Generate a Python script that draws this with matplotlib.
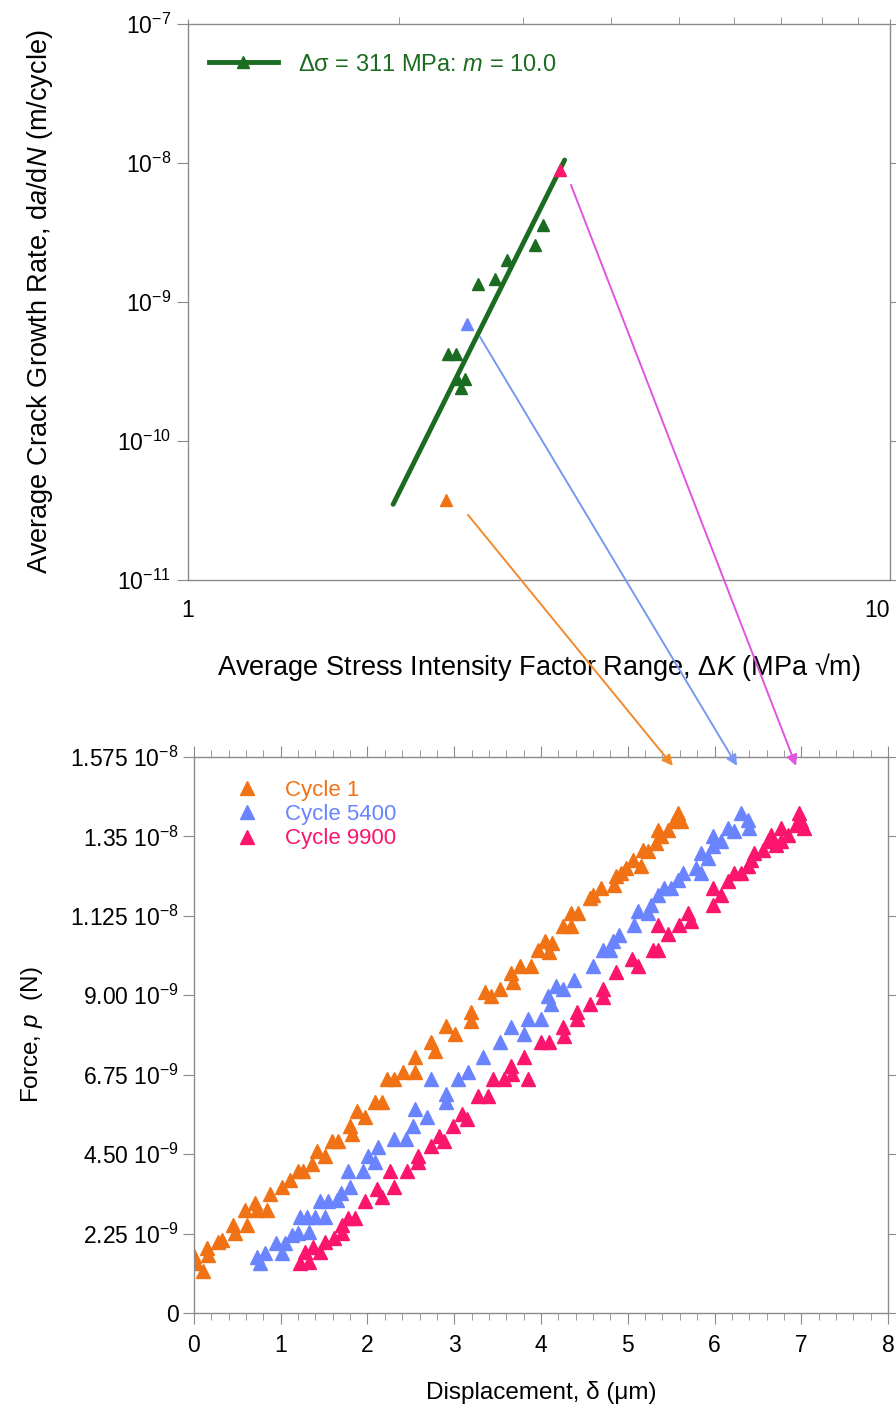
import numpy as np
import matplotlib
matplotlib.use("Agg")
import matplotlib.pyplot as plt
from matplotlib.lines import Line2D
from matplotlib.patches import ConnectionPatch
from matplotlib.ticker import FixedLocator, MultipleLocator, NullFormatter, NullLocator

plt.rcParams['font.family'] = ['Liberation Sans', 'DejaVu Sans']
plt.rcParams['mathtext.fontset'] = 'custom'
plt.rcParams['mathtext.rm'] = 'Liberation Sans'
plt.rcParams['mathtext.it'] = 'Liberation Sans:italic'
plt.rcParams['mathtext.default'] = 'regular'

# ---- top panel data: crack growth rate vs dK ----
dk_311 = [2.346, 2.405, 2.413, 2.477, 2.446, 2.589, 2.735, 2.845, 3.122, 3.205]
rate_311 = [4.22e-10, 4.22e-10, 2.79e-10, 2.79e-10, 2.41e-10, 1.35e-9, 1.46e-9, 2.00e-9, 2.57e-9, 3.58e-9]
fit_dk = [1.96, 3.44]
fit_rate = [3.5e-11, 1.05e-8]

# highlighted cycles (dK, rate)
dk_cycles = [2.331, 2.497, 3.388]
rate_cycles = [3.77e-11, 6.95e-10, 8.9e-9]

# ---- bottom panel data: force vs displacement (force in 1e-9 N) ----
disp_c1 = [0.00, 0.02, 0.10, 0.15, 0.16, 0.28, 0.32, 0.45, 0.47, 0.59,
           0.61, 0.70, 0.73, 0.84, 0.88, 1.02, 1.11, 1.20, 1.26, 1.36,
           1.42, 1.51, 1.59, 1.66, 1.80, 1.82, 1.88, 1.97, 2.09, 2.17,
           2.23, 2.30, 2.41, 2.55, 2.55, 2.73, 2.78, 2.90, 3.01, 3.19,
           3.19, 3.36, 3.42, 3.53, 3.65, 3.68, 3.76, 3.88, 3.96, 4.05,
           4.09, 4.13, 4.25, 4.34, 4.34, 4.43, 4.57, 4.60, 4.69, 4.84,
           4.86, 4.92, 4.98, 5.06, 5.15, 5.18, 5.23, 5.32, 5.38, 5.35,
           5.46, 5.53, 5.58, 5.61]
force_c1 = [1.62, 1.42, 1.19, 1.85, 1.65, 2.02, 2.08, 2.50, 2.28, 2.93,
            2.50, 3.13, 2.93, 2.93, 3.36, 3.56, 3.78, 4.01, 4.01, 4.21,
            4.58, 4.44, 4.86, 4.86, 5.29, 5.06, 5.72, 5.55, 5.97, 5.97,
            6.63, 6.63, 6.83, 6.83, 7.25, 7.68, 7.43, 8.14, 7.91, 8.54,
            8.28, 9.10, 8.99, 9.19, 9.62, 9.39, 9.84, 9.84, 10.27, 10.53,
            10.24, 10.47, 10.95, 10.95, 11.32, 11.32, 11.75, 11.84, 12.03, 12.12,
            12.38, 12.46, 12.60, 12.83, 12.66, 13.12, 13.09, 13.31, 13.51, 13.68,
            13.68, 13.94, 14.17, 13.94]

disp_c5400 = [0.73, 0.76, 0.82, 0.94, 1.02, 1.05, 1.13, 1.20, 1.22, 1.30,
              1.32, 1.40, 1.45, 1.51, 1.55, 1.65, 1.69, 1.78, 1.80, 1.95,
              2.01, 2.09, 2.12, 2.30, 2.44, 2.53, 2.55, 2.69, 2.73, 2.90,
              2.90, 3.04, 3.16, 3.33, 3.53, 3.65, 3.80, 3.85, 4.00, 4.08,
              4.11, 4.17, 4.25, 4.38, 4.60, 4.72, 4.80, 4.83, 4.90, 5.07,
              5.12, 5.23, 5.27, 5.35, 5.42, 5.50, 5.58, 5.64, 5.79, 5.84,
              5.84, 5.92, 5.98, 5.98, 6.07, 6.15, 6.22, 6.30, 6.39, 6.40]
force_c5400 = [1.59, 1.42, 1.71, 1.99, 1.71, 1.99, 2.22, 2.28, 2.73, 2.73,
               2.30, 2.73, 3.16, 2.73, 3.16, 3.21, 3.41, 4.01, 3.58, 4.01,
               4.44, 4.27, 4.69, 4.92, 4.92, 5.29, 5.78, 5.55, 6.63, 6.20,
               5.97, 6.63, 6.83, 7.25, 7.68, 8.11, 7.91, 8.34, 8.34, 8.99,
               8.76, 9.25, 9.19, 9.42, 9.84, 10.27, 10.27, 10.53, 10.70, 10.98,
               11.38, 11.32, 11.55, 11.84, 12.03, 12.03, 12.26, 12.46, 12.60, 12.46,
               13.03, 12.89, 13.23, 13.51, 13.37, 13.74, 13.66, 14.17, 13.97, 13.74]

disp_c9900 = [1.22, 1.28, 1.32, 1.37, 1.45, 1.51, 1.61, 1.71, 1.71, 1.78,
              1.86, 1.97, 2.11, 2.17, 2.30, 2.26, 2.46, 2.58, 2.58, 2.73,
              2.82, 2.88, 2.99, 3.09, 3.15, 3.27, 3.39, 3.45, 3.57, 3.65,
              3.67, 3.80, 3.85, 4.00, 4.09, 4.25, 4.26, 4.42, 4.42, 4.57,
              4.72, 4.72, 4.86, 5.05, 5.12, 5.29, 5.35, 5.35, 5.46, 5.59,
              5.70, 5.73, 5.98, 5.98, 6.07, 6.15, 6.22, 6.30, 6.39, 6.42,
              6.46, 6.56, 6.62, 6.65, 6.71, 6.77, 6.85, 6.77, 6.94, 7.00,
              6.97, 7.03]
force_c9900 = [1.42, 1.74, 1.45, 1.88, 1.74, 2.02, 2.13, 2.28, 2.50, 2.70,
               2.70, 3.16, 3.50, 3.30, 3.58, 4.01, 4.01, 4.44, 4.27, 4.72,
               5.01, 4.86, 5.29, 5.63, 5.49, 6.15, 6.15, 6.63, 6.63, 7.00,
               6.77, 7.25, 6.63, 7.68, 7.68, 8.11, 7.85, 8.54, 8.34, 8.76,
               9.19, 8.96, 9.67, 10.04, 9.84, 10.27, 10.27, 10.98, 10.75, 10.98,
               11.32, 11.10, 11.55, 12.03, 11.84, 12.23, 12.46, 12.46, 12.66, 12.83,
               13.03, 13.12, 13.37, 13.54, 13.26, 13.37, 13.54, 13.74, 13.83, 13.94,
               14.17, 13.74]

force_ticks = [0, 2.25, 4.50, 6.75, 9.00, 11.25, 13.50, 15.75]
force_labels = ['0', '2.25 10$^{-9}$', '4.50 10$^{-9}$', '6.75 10$^{-9}$', '9.00 10$^{-9}$',
                '1.125 10$^{-8}$', '1.35 10$^{-8}$', '1.575 10$^{-8}$']
rate_ticks = [1e-11, 1e-10, 1e-9, 1e-8, 1e-7]
rate_labels = ['10$^{-11}$', '10$^{-10}$', '10$^{-9}$', '10$^{-8}$', '10$^{-7}$']

# arrow ends: start in top panel (dK, rate), end in bottom panel (disp, force 1e-9)
arrow_start = [(2.505, 2.94e-11), (2.606, 5.6e-10), (3.512, 6.95e-9)]
arrow_end = [(5.52, 15.5), (6.26, 15.5), (6.94, 15.5)]

green = '#1b6b20'
c_orange = '#f07214'
c_blue = '#6a84ff'
c_pink = '#fb156c'
arrow_colors = ['#f08a2a', '#7a98f0', '#e055e0']
spine_col = '#8a8a8a'

fig = plt.figure(figsize=(8.96, 14.10), dpi=100)
ax1 = fig.add_axes([0.2098, 0.5887, 0.7835, 0.3943])
ax2 = fig.add_axes([0.2165, 0.0688, 0.7746, 0.3943])

# ---------------- top panel ----------------
ax1.set_xscale('log')
ax1.set_yscale('log')
ax1.plot(fit_dk, fit_rate, color=green, lw=3.5, solid_capstyle='round')
ax1.plot(dk_311, rate_311, ls='none', marker='^', ms=9, color=green)
for dk, r, c in zip(dk_cycles, rate_cycles, [c_orange, c_blue, c_pink]):
    ax1.plot([dk], [r], ls='none', marker='^', ms=9, color=c)
ax1.set_xlim(1, 10)
ax1.set_ylim(1e-11, 1e-7)
ax1.xaxis.set_major_locator(FixedLocator([1, 10]))
ax1.set_xticklabels(['1', '10'])
ax1.xaxis.set_minor_locator(FixedLocator([2, 3, 4, 5, 6, 7, 8, 9]))
ax1.xaxis.set_minor_formatter(NullFormatter())
ax1.yaxis.set_major_locator(FixedLocator(rate_ticks))
ax1.set_yticklabels(rate_labels)
ax1.yaxis.set_minor_locator(NullLocator())
ax1.tick_params(axis='x', which='both', bottom=False, top=True, direction='out',
                color=spine_col, labelsize=16.5, pad=10)
ax1.tick_params(axis='x', which='minor', length=5)
ax1.tick_params(axis='y', which='both', left=True, right=True, direction='out',
                color=spine_col, labelsize=16.5, length=8, pad=4)
ax1.get_xticklabels()[-1].set_horizontalalignment('right')
ax1.set_xlabel('Average Stress Intensity Factor Range, Δ$\\mathit{K}$ (MPa √m)', fontsize=19.5)
ax1.xaxis.set_label_coords(0.5, -0.128)
ax1.set_ylabel('Average Crack Growth Rate, d$\\mathit{a}$/d$\\mathit{N}$ (m/cycle)', fontsize=19.5)
ax1.yaxis.set_label_coords(-0.19, 0.5)
handle = Line2D([], [], color=green, lw=3.5, marker='^', ms=9)
leg1 = ax1.legend([handle], ['Δσ = 311 MPa: $\\mathit{m}$ = 10.0'], loc='upper left',
                  bbox_to_anchor=(0.0, 0.985), frameon=False, fontsize=17,
                  handlelength=2.9, handletextpad=0.85, numpoints=1)
for t in leg1.get_texts():
    t.set_color(green)

# ---------------- bottom panel ----------------
ax2.plot(disp_c1, np.array(force_c1), ls='none', marker='^', ms=10, color=c_orange, label='Cycle 1')
ax2.plot(disp_c5400, np.array(force_c5400), ls='none', marker='^', ms=10, color=c_blue, label='Cycle 5400')
ax2.plot(disp_c9900, np.array(force_c9900), ls='none', marker='^', ms=10, color=c_pink, label='Cycle 9900')
ax2.set_xlim(0, 8)
ax2.set_ylim(0, 15.75)
ax2.xaxis.set_major_locator(MultipleLocator(1))
ax2.xaxis.set_minor_locator(MultipleLocator(0.2))
ax2.yaxis.set_major_locator(FixedLocator(force_ticks))
ax2.set_yticklabels(force_labels)
ax2.tick_params(axis='x', which='both', bottom=True, top=True, direction='out',
                color=spine_col, labelsize=16.5, pad=7)
ax2.tick_params(axis='x', which='major', length=8)
ax2.tick_params(axis='x', which='minor', length=5)
ax2.tick_params(axis='y', which='both', left=True, right=True, direction='out',
                color=spine_col, labelsize=16.5, length=8, pad=3)
ax2.set_xlabel('Displacement, δ (μm)', fontsize=17.5)
ax2.xaxis.set_label_coords(0.5, -0.123)
ax2.set_ylabel('Force, $\\mathit{p}$  (N)', fontsize=17.5)
ax2.yaxis.set_label_coords(-0.215, 0.5)
leg2 = ax2.legend(loc='upper left', bbox_to_anchor=(0.032, 0.995), frameon=False, fontsize=16,
                  handlelength=1.0, handletextpad=1.2, labelspacing=0.15, numpoints=1)
for t, c in zip(leg2.get_texts(), [c_orange, c_blue, c_pink]):
    t.set_color(c)

for ax in (ax1, ax2):
    for s in ax.spines.values():
        s.set_color(spine_col)
        s.set_linewidth(1.0)

# arrows linking top panel points to the curves below
for (xa, ya), (xb, yb), c in zip(arrow_start, arrow_end, arrow_colors):
    con = ConnectionPatch(xyA=(xa, ya), coordsA=ax1.transData,
                          xyB=(xb, yb), coordsB=ax2.transData,
                          arrowstyle='-|>', mutation_scale=16, color=c, lw=1.4)
    fig.add_artist(con)

fig.savefig('out.png', dpi=100)
